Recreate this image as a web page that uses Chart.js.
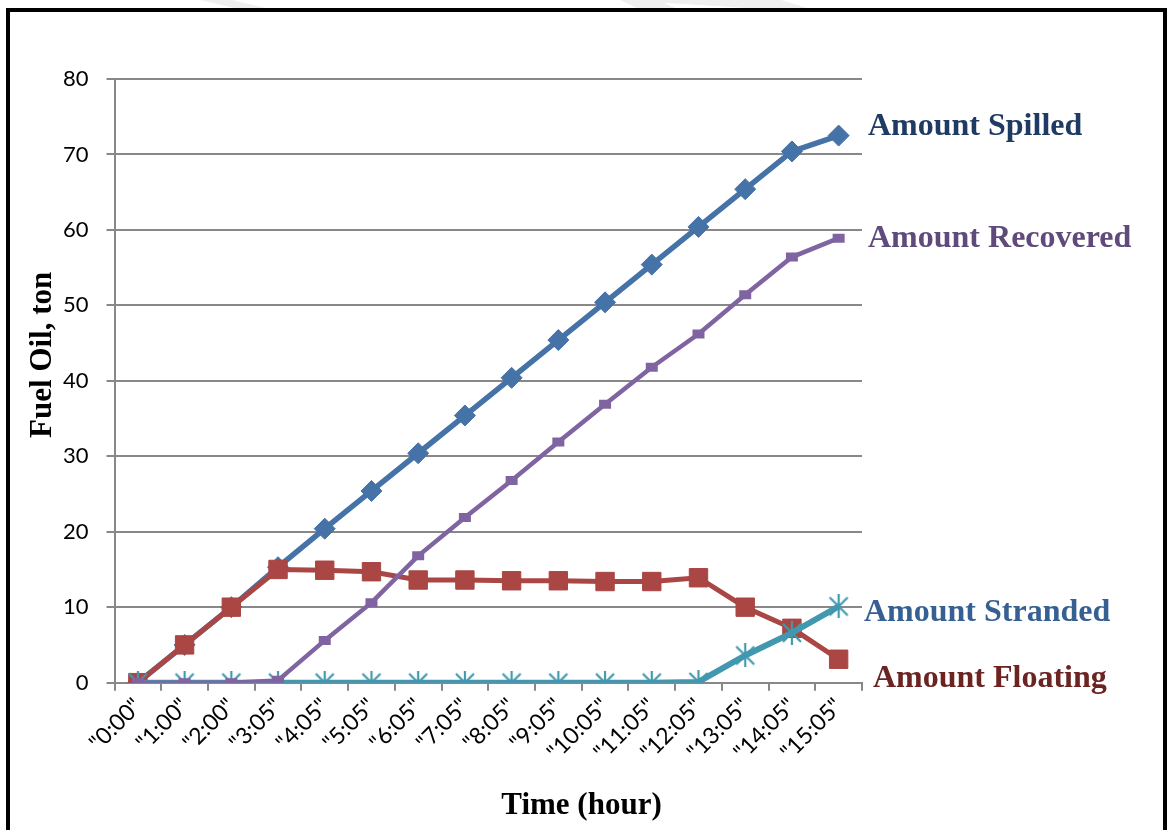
<!DOCTYPE html>
<html>
<head>
<meta charset="utf-8">
<script src="https://cdn.jsdelivr.net/npm/chart.js@4.4.1/dist/chart.umd.min.js"></script>
<style>
  html, body { margin: 0; padding: 0; background: #fff; }
  #wrap { position: relative; width: 1171px; height: 830px; overflow: hidden; background: #fff; }
  #frame { position: absolute; left: 6px; top: 8px; width: 1161px; height: 900px; border: 4px solid #000; box-sizing: border-box; }
  .wm { position: absolute; top: 0; height: 9px; background: #efefef; }
  canvas { position: absolute; left: 0; top: 0; }
</style>
</head>
<body>
<div id="wrap">
  <div class="wm" style="left:200px;width:70px;clip-path:polygon(0 0,45% 0,100% 100%,55% 100%);"></div>
  <div class="wm" style="left:620px;width:190px;clip-path:polygon(0 0,20% 0,30% 100%,10% 100%,0 0,60% 0,85% 0,100% 100%,75% 100%);"></div>
  <div id="frame"></div>
  <canvas id="c" width="1171" height="830"></canvas>
</div>
<script>
const categories = ['"0:00"','"1:00"','"2:00"','"3:05"','"4:05"','"5:05"','"6:05"','"7:05"','"8:05"','"9:05"','"10:05"','"11:05"','"12:05"','"13:05"','"14:05"','"15:05"'];
const amountSpilled   = [0, 5, 10, 15.3, 20.4, 25.4, 30.4, 35.4, 40.4, 45.4, 50.4, 55.4, 60.4, 65.4, 70.4, 72.5];
const amountFloating  = [0, 5, 10, 15.0, 14.9, 14.7, 13.6, 13.6, 13.5, 13.5, 13.4, 13.4, 13.9, 10.0, 7.2, 3.1];
const amountRecovered = [0, 0, 0, 0.3, 5.6, 10.6, 16.8, 21.9, 26.8, 31.9, 36.9, 41.8, 46.2, 51.4, 56.4, 58.9];
const amountStranded  = [0, 0, 0, 0, 0, 0, 0, 0, 0, 0, 0, 0, 0.1, 3.6, 6.6, 10.1];
const yTicks = [0, 10, 20, 30, 40, 50, 60, 70, 80];
const seriesNames = ['Amount Spilled', 'Amount Floating', 'Amount Stranded', 'Amount Recovered'];
const xTitle = 'Time (hour)';
const yTitle = 'Fuel Oil, ton';

// asterisk marker
const star = document.createElement('canvas');
star.width = 24; star.height = 24;
(function(){
  const g = star.getContext('2d');
  g.strokeStyle = '#4198AF'; g.lineWidth = 2.2; g.lineCap = 'butt';
  g.beginPath();
  g.moveTo(3,3); g.lineTo(21,21);
  g.moveTo(21,3); g.lineTo(3,21);
  g.moveTo(12,0); g.lineTo(12,24);
  g.stroke();
})();

const serifBold = '"Liberation Serif", "Times New Roman", serif';

const annotations = {
  id: 'annotations',
  afterDatasetsDraw(chart) {
    const ctx = chart.ctx, ys = chart.scales.y, ca = chart.chartArea;
    const specs = [
      {ds: 0, color: '#1F3B63', dx: 6, dy: -9},
      {ds: 3, color: '#604A7B', dx: 6, dy: 1},
      {ds: 2, color: '#376092', dx: 2, dy: 6},
      {ds: 1, color: '#6B2422', dx: 11, dy: 19}
    ];
    ctx.save();
    ctx.font = 'bold 32px ' + serifBold;
    ctx.textAlign = 'left';
    ctx.textBaseline = 'middle';
    specs.forEach(s => {
      const d = chart.data.datasets[s.ds];
      const v = d.data[d.data.length - 1];
      ctx.fillStyle = s.color;
      ctx.fillText(d.label, ca.right + s.dx, ys.getPixelForValue(v) + s.dy);
    });
    // axis titles
    ctx.fillStyle = '#000';
    ctx.font = 'bold 31px ' + serifBold;
    ctx.textAlign = 'center';
    ctx.fillText(xTitle, chart.width / 2 - 4, ca.bottom + 123);
    ctx.translate(43, (ca.top + ca.bottom) / 2 - 26);
    ctx.rotate(-Math.PI / 2);
    ctx.fillText(yTitle, 0, 0);
    ctx.restore();
  }
};

new Chart(document.getElementById('c'), {
  type: 'line',
  data: {
    labels: categories,
    datasets: [
      { label: seriesNames[0], data: amountSpilled, order: 3,
        borderColor: '#4572A7', backgroundColor: '#4572A7', borderWidth: 5.5,
        pointStyle: 'rectRot', pointRadius: 10.5, pointBorderWidth: 1, pointBorderColor: '#4572A7' },
      { label: seriesNames[1], data: amountFloating, order: 2,
        borderColor: '#AA4643', backgroundColor: '#AA4643', borderWidth: 5,
        pointStyle: 'rect', pointRadius: 13, pointBorderWidth: 1, pointBorderColor: '#AA4643' },
      { label: seriesNames[2], data: amountStranded, order: 1,
        borderColor: '#4198AF', backgroundColor: '#4198AF', borderWidth: 6,
        pointStyle: star, pointRadius: 12 },
      { label: seriesNames[3], data: amountRecovered, order: 0,
        borderColor: '#8064A2', backgroundColor: '#8064A2', borderWidth: 4.5,
        pointStyle: 'line', pointRadius: 6, pointBorderWidth: 9, pointBorderColor: '#8064A2' }
    ]
  },
  options: {
    responsive: false,
    animation: false,
    events: [],
    layout: { padding: { left: 45, right: 309, top: 79, bottom: 62 } },
    elements: { line: { tension: 0 } },
    plugins: { legend: { display: false }, tooltip: { enabled: false } },
    scales: {
      x: {
        offset: true,
        grid: { display: true, drawOnChartArea: false, offset: true, color: '#888888', lineWidth: 2, tickLength: 8 },
        border: { display: true, color: '#888888', width: 2 },
        ticks: { autoSkip: false, maxRotation: 45, minRotation: 45, padding: 2, color: '#000',
                 font: { family: 'Lato, "Liberation Sans", sans-serif', size: 23 } }
      },
      y: {
        min: 0, max: 80,
        afterBuildTicks(axis) { axis.ticks = yTicks.map(v => ({ value: v })); },
        grid: { color: '#888888', lineWidth: 2, tickLength: 8 },
        border: { display: true, color: '#888888', width: 2 },
        ticks: { padding: 18, color: '#000',
                 font: { family: 'Lato, "Liberation Sans", sans-serif', size: 22 } }
      }
    }
  },
  plugins: [annotations]
});
</script>
</body>
</html>
